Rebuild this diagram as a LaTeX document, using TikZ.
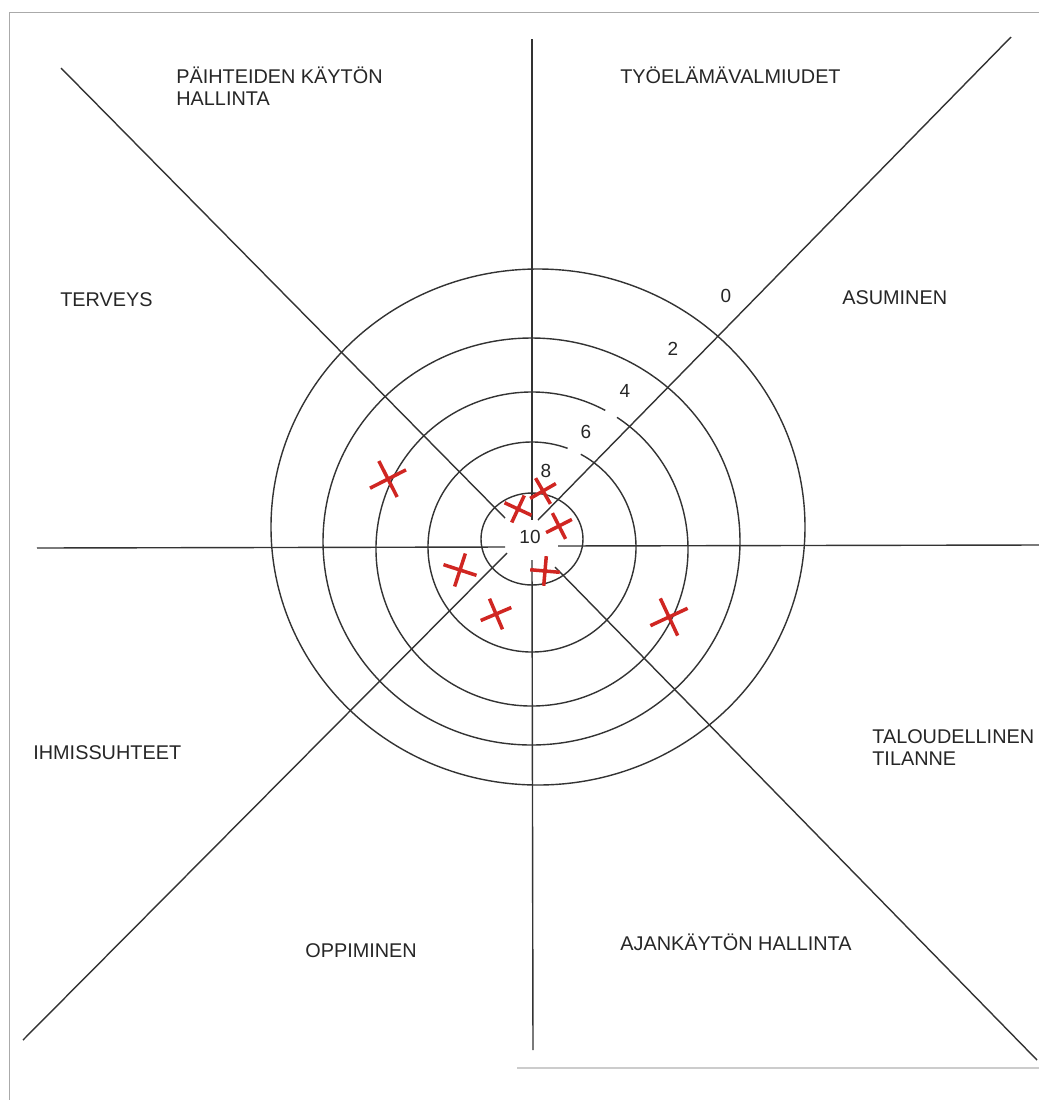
\documentclass[tikz,border=0pt]{standalone}
\usepackage{fontspec}
\setmainfont{Liberation Sans}
\usetikzlibrary{shapes.misc,positioning}
\definecolor{penred}{RGB}{208,38,34}
\definecolor{scangray}{RGB}{170,170,170}

\begin{document}
\begin{tikzpicture}[x=0.02cm,y=-0.02cm,
    spoke/.style={draw=black!80,line width=0.8pt},
    ring/.style={draw=black!80,line width=0.8pt},
    area/.style={anchor=base west,inner sep=0pt,align=left,text=black!85,
                 font=\fontsize{11.3}{12.5}\selectfont},
    scalenum/.style={inner sep=0pt,text=black!85,font=\fontsize{10.8}{13}\selectfont},
    redx/.style={cross out,draw=penred,line width=2pt,inner sep=0pt,minimum size=#1},
    redx/.default=0.35cm]
        \useasboundingbox (0,0) rectangle (1039,1100);
        % scanned page edges
        \coordinate (p_bl) at (9,1100);
        \coordinate (p_tl) at (9,12);
        \coordinate (p_tr) at (1039,12);
        \coordinate (p_b1) at (517,1068);
        \coordinate (p_b2) at (1039,1068);
        \draw[scangray,line width=0.5pt] (p_bl) -- (p_tl) -- (p_tr);
        \draw[scangray!60,line width=0.8pt] (p_b1) -- (p_b2);

        % spokes
        \coordinate (n_out) at (532,39);    \coordinate (n_in) at (532,520);
        \coordinate (s_out) at (533,1050);  \coordinate (s_in) at (532,560);
        \coordinate (w_out) at (37,548);    \coordinate (w_in) at (505,547);
        \coordinate (e_out) at (1039,545);  \coordinate (e_in) at (558,546);
        \coordinate (nw_out) at (61,68);    \coordinate (nw_in) at (505,518);
        \coordinate (ne_out) at (1011,37);  \coordinate (ne_in) at (538,520);
        \coordinate (sw_out) at (23,1040);  \coordinate (sw_in) at (507,553);
        \coordinate (se_out) at (1037,1060);\coordinate (se_in) at (555,567);
        \path[spoke]
        (n_out) edge (n_in)
        (s_out) edge (s_in)
        (w_out) edge (w_in)
        (e_out) edge (e_in)
        (nw_out) edge (nw_in)
        (ne_out) edge (ne_in)
        (sw_out) edge (sw_in)
        (se_out) edge (se_in);

        % rings
        \coordinate (c_10) at (532,539);
        \coordinate (c_8) at (532,547);
        \coordinate (c_6) at (532,549);
        \coordinate (c_4) at (531.5,541.5);
        \coordinate (c_2) at (538,527);
        \draw[ring] (c_10) ellipse [x radius=51,y radius=46];
        \draw[ring] (c_8) ++(-62:104 and 105) arc [start angle=-62,end angle=290,x radius=104,y radius=105];
        \draw[ring] (c_6) ++(-57:156 and 157) arc [start angle=-57,end angle=298,x radius=156,y radius=157];
        \draw[ring] (c_4) ellipse [x radius=208.5,y radius=203.5];
        \draw[ring] (c_2) ellipse [x radius=267,y radius=258];

        % scale
        \node[scalenum] (v_0) at (726,296) {0};
        \node[scalenum] (v_2) at (673,349) {2};
        \node[scalenum] (v_4) at (625,391) {4};
        \node[scalenum] (v_6) at (586,432) {6};
        \node[scalenum] (v_8) at (546,471) {8};
        \node[scalenum] (v_10) at (530,537) {10};

        % areas (base = last line)
        \node[area] (paihteet) at (176,105) {PÄIHTEIDEN KÄYTÖN\\HALLINTA};
        \node[area] (tyoelama) at (620,83) {TYÖELÄMÄVALMIUDET};
        \node[area] (terveys) at (60,306) {TERVEYS};
        \node[area] (asuminen) at (842,304) {ASUMINEN};
        \node[area] (ihmiset) at (33,759) {IHMISSUHTEET};
        \node[area] (talous) at (872,765) {TALOUDELLINEN\\TILANNE};
        \node[area] (oppiminen) at (305,957) {OPPIMINEN};
        \node[area] (ajankaytto) at (620,950) {AJANKÄYTÖN HALLINTA};

        % marks
        \node[redx=0.5cm,rotate=-18] (x_1) at (388,479) {};
        \node[redx,rotate=20] (x_2) at (518,509) {};
        \node[redx,rotate=-15] (x_3) at (543,491) {};
        \node[redx=0.34cm,rotate=-18] (x_4) at (559,526) {};
        \node[redx=0.42cm,rotate=27] (x_5) at (460,570) {};
        \node[redx=0.4cm,rotate=-22] (x_6) at (496,614) {};
        \node[redx,rotate=40] (x_7) at (545,571) {};
        \node[redx=0.51cm,rotate=-20] (x_8) at (669,617) {};
\end{tikzpicture}
\end{document}
